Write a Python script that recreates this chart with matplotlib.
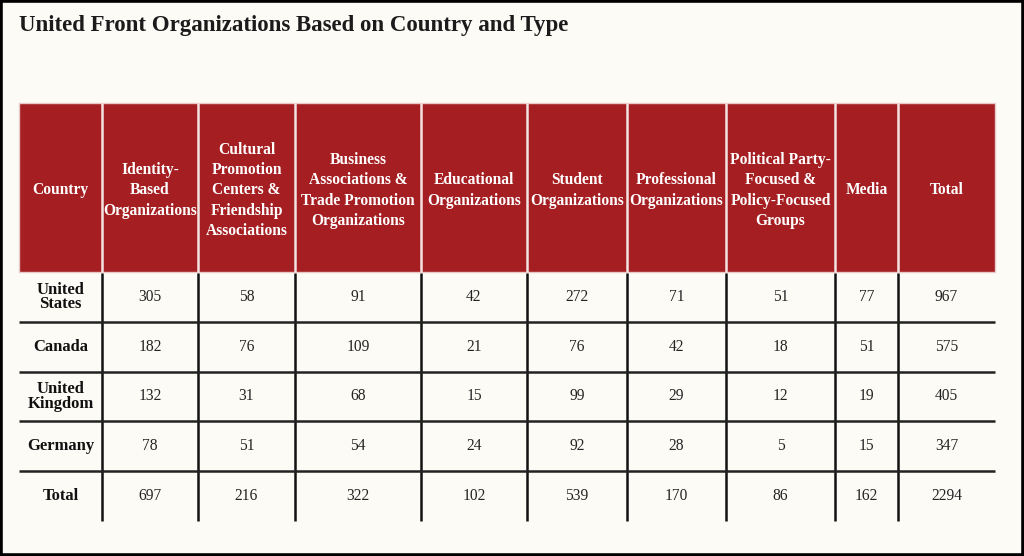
import matplotlib.pyplot as plt
from matplotlib.patches import Rectangle

title = "United Front Organizations Based on Country and Type"

headers = [
    "Country",
    "Identity-\nBased\nOrganizations",
    "Cultural\nPromotion\nCenters &\nFriendship\nAssociations",
    "Business\nAssociations &\nTrade Promotion\nOrganizations",
    "Educational\nOrganizations",
    "Student\nOrganizations",
    "Professional\nOrganizations",
    "Political Party-\nFocused &\nPolicy-Focused\nGroups",
    "Media",
    "Total",
]

countries = ["United\nStates", "Canada", "United\nKingdom", "Germany", "Total"]

united_states = [305, 58, 91, 42, 272, 71, 51, 77, 967]
canada = [182, 76, 109, 21, 76, 42, 18, 51, 575]
united_kingdom = [132, 31, 68, 15, 99, 29, 12, 19, 405]
germany = [78, 51, 54, 24, 92, 28, 5, 15, 347]
total = [697, 216, 322, 102, 539, 170, 86, 162, 2294]
rows = [united_states, canada, united_kingdom, germany, total]

# layout in pixels
col_edges = [19, 102, 198, 295, 421, 527, 627, 726, 835, 898, 995]
head_top, head_bot = 103, 272
row_h = 49.8

BG = "#fdfbf6"
RED = "#a51e22"
SERIF = ["Liberation Serif", "DejaVu Serif"]

fig = plt.figure(figsize=(10.24, 5.56), dpi=100, facecolor=BG)
ax = fig.add_axes([0, 0, 1, 1])
ax.set_xlim(0, 1024)
ax.set_ylim(556, 0)
ax.axis("off")
ax.set_facecolor(BG)

# outer frame
ax.add_patch(Rectangle((1.3, 1.3), 1021.4, 553.4, fill=False, ec="black", lw=2.6))

ax.text(19, 25, title, fontsize=16.5, fontweight="bold", family=SERIF,
        color="#1b1b1b", va="center", ha="left")

# header
ax.add_patch(Rectangle((col_edges[0], head_top), col_edges[-1] - col_edges[0],
                       head_bot - head_top, fc=RED, ec="#e9c9c7", lw=1))
ax.vlines(col_edges[1:-1], head_top, head_bot, color="#f3e3e1", lw=1.8)
for i, h in enumerate(headers):
    xc = (col_edges[i] + col_edges[i + 1]) / 2
    ax.text(xc, (head_top + head_bot) / 2 + 3, h, color="white", fontsize=11.2,
            fontweight="bold", family=SERIF, ha="center", va="center",
            linespacing=1.36)

# body
n = len(rows)
ys = [head_bot + row_h * k for k in range(n + 1)]
ax.vlines(col_edges[1:-1], head_bot + 1, ys[-1], color="#111111", lw=1.8)
ax.hlines(ys[1:-1], col_edges[0], col_edges[-1], color="#222222", lw=1.8)

for r, (name, vals) in enumerate(zip(countries, rows)):
    yc = (ys[r] + ys[r + 1]) / 2
    ax.text((col_edges[0] + col_edges[1]) / 2, yc, name, fontsize=12,
            fontweight="bold", family=SERIF, color="#111111",
            ha="center", va="center", linespacing=0.85)
    for c, v in enumerate(vals):
        xc = (col_edges[c + 1] + col_edges[c + 2]) / 2
        ax.text(xc, yc, str(v), fontsize=11.2, family=SERIF, color="#222222",
                ha="center", va="center")

fig.savefig("out.png", dpi=100, facecolor=BG)
